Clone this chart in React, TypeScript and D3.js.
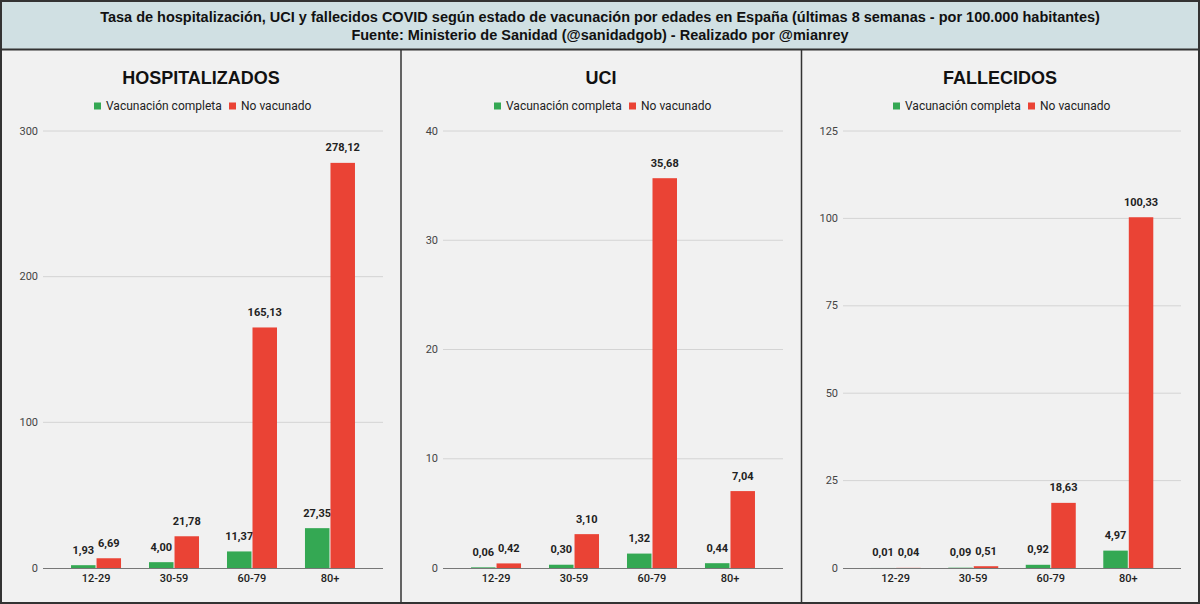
import React from "react";
import * as d3 from "d3";

const W = 1200;
const H = 604;

const ageGroups = ["12-29", "30-59", "60-79", "80+"];
const seriesNames = ["Vacunación completa", "No vacunado"];
const seriesColors = ["#34a853", "#ea4335"];

const hospVaccinated = [1.93, 4.0, 11.37, 27.35];
const hospUnvaccinated = [6.69, 21.78, 165.13, 278.12];
const uciVaccinated = [0.06, 0.3, 1.32, 0.44];
const uciUnvaccinated = [0.42, 3.1, 35.68, 7.04];
const deathVaccinated = [0.01, 0.09, 0.92, 4.97];
const deathUnvaccinated = [0.04, 0.51, 18.63, 100.33];

const hospTicks = [0, 100, 200, 300];
const uciTicks = [0, 10, 20, 30, 40];
const deathTicks = [0, 25, 50, 75, 100, 125];

const titleLine1 =
  "Tasa de hospitalización, UCI y fallecidos COVID según estado de vacunación por edades en España (últimas 8 semanas - por 100.000 habitantes)";
const titleLine2 = "Fuente: Ministerio de Sanidad (@sanidadgob) - Realizado por @mianrey";

const panels = [
  { title: "HOSPITALIZADOS", vac: hospVaccinated, unvac: hospUnvaccinated, ticks: hospTicks, left: 2, right: 400 },
  { title: "UCI", vac: uciVaccinated, unvac: uciUnvaccinated, ticks: uciTicks, left: 402, right: 800 },
  { title: "FALLECIDOS", vac: deathVaccinated, unvac: deathUnvaccinated, ticks: deathTicks, left: 802, right: 1198 },
];

const esLocale = d3.formatLocale({ decimal: ",", thousands: ".", grouping: [3], currency: ["", "€"] });
const fmtValue = esLocale.format(".2f");

const chartFont = "Roboto, 'Liberation Sans', Arial, sans-serif";
const titleFont = "'Liberation Sans', Arial, sans-serif";

const PLOT_TOP = 131;
const PLOT_BOTTOM = 568;

function Panel({ p }: { p: (typeof panels)[number] }) {
  const plotLeft = p.left + 41;
  const plotRight = p.right - 17;
  const cx = (p.left + p.right) / 2;

  const x0 = d3.scaleBand<string>().domain(ageGroups).range([plotLeft, plotRight]).paddingInner(0).paddingOuter(0.18);
  const step = x0.bandwidth();
  const x1 = d3
    .scaleBand<number>()
    .domain([0, 1])
    .range([(step - 50) / 2, (step + 50) / 2])
    .paddingInner(0.04);
  const y = d3
    .scaleLinear()
    .domain([0, d3.max(p.ticks) as number])
    .range([PLOT_BOTTOM, PLOT_TOP]);

  const rows = ageGroups.map((g, i) => ({ g, vals: [p.vac[i], p.unvac[i]] }));

  // legend geometry
  const sq = 7;
  const legendItemW = [124, 79];
  const legendW = legendItemW[0] + 11 + legendItemW[1];
  const legendX = cx - legendW / 2;
  const legendY = 106;

  return (
    <g>
      <rect x={p.left} y={50} width={p.right - p.left} height={552} fill="#f1f1f1" />
      <text
        x={cx}
        y={78}
        textAnchor="middle"
        dominantBaseline="central"
        fontFamily={titleFont}
        fontWeight="bold"
        fontSize={18}
        fill="#111"
      >
        {p.title}
      </text>
      {seriesNames.map((s, k) => {
        const lx = legendX + (k === 0 ? 0 : legendItemW[0] + 11);
        return (
          <g key={s}>
            <rect x={lx} y={legendY - 3.5} width={sq} height={sq} fill={seriesColors[k]} />
            <text
              x={lx + sq + 5}
              y={legendY}
              dominantBaseline="central"
              fontFamily={chartFont}
              fontSize={12}
              fill="#222"
            >
              {s}
            </text>
          </g>
        );
      })}
      {p.ticks.map((t) => (
        <g key={t}>
          {t !== 0 && (
            <line x1={plotLeft} x2={plotRight} y1={y(t)} y2={y(t)} stroke="#d4d4d4" strokeWidth={1} />
          )}
          <text
            x={plotLeft - 5}
            y={y(t)}
            textAnchor="end"
            dominantBaseline="central"
            fontFamily={chartFont}
            fontSize={11}
            fill="#444"
          >
            {t}
          </text>
        </g>
      ))}
      {rows.map((r) => (
        <g key={r.g} transform={`translate(${x0(r.g)},0)`}>
          {r.vals.map((v, k) => (
            <g key={k}>
              <rect
                x={x1(k)}
                y={y(v)}
                width={x1.bandwidth()}
                height={PLOT_BOTTOM - y(v)}
                fill={seriesColors[k]}
              />
              <text
                x={(x1(k) as number) + x1.bandwidth() / 2}
                y={y(v) - 15}
                textAnchor="middle"
                dominantBaseline="central"
                fontFamily={chartFont}
                fontWeight="bold"
                fontSize={11}
                fill="#222"
              >
                {fmtValue(v)}
              </text>
            </g>
          ))}
          <text
            x={step / 2}
            y={578}
            textAnchor="middle"
            dominantBaseline="central"
            fontFamily={chartFont}
            fontWeight={500}
            fontSize={11}
            fill="#222"
          >
            {r.g}
          </text>
        </g>
      ))}
      <line x1={plotLeft} x2={plotRight} y1={PLOT_BOTTOM + 0.5} y2={PLOT_BOTTOM + 0.5} stroke="#777" strokeWidth={1} />
    </g>
  );
}

export default function App() {
  return (
    <svg
      width={W}
      height={H}
      viewBox={`0 0 ${W} ${H}`}
      style={{ position: "fixed", left: 0, top: 0, display: "block" }}
    >
      <rect x={0} y={0} width={W} height={H} fill="#f1f1f1" />
      <rect x={0} y={0} width={W} height={50} fill="#d0e0e3" />
      <text
        x={600}
        y={17}
        textAnchor="middle"
        dominantBaseline="central"
        fontFamily={titleFont}
        fontWeight="bold"
        fontSize={14.5}
        fill="#111"
      >
        {titleLine1}
      </text>
      <text
        x={600}
        y={35}
        textAnchor="middle"
        dominantBaseline="central"
        fontFamily={titleFont}
        fontWeight="bold"
        fontSize={14.5}
        fill="#111"
      >
        {titleLine2}
      </text>
      {panels.map((p) => (
        <Panel key={p.title} p={p} />
      ))}
      {/* frame and separators */}
      <line x1={0} x2={W} y1={49.5} y2={49.5} stroke="#333" strokeWidth={2} />
      <line x1={401} x2={401} y1={50} y2={H} stroke="#333" strokeWidth={1.5} />
      <line x1={801.5} x2={801.5} y1={50} y2={H} stroke="#333" strokeWidth={1.5} />
      <rect x={1} y={1} width={W - 2} height={H - 2} fill="none" stroke="#333" strokeWidth={2} />
    </svg>
  );
}
